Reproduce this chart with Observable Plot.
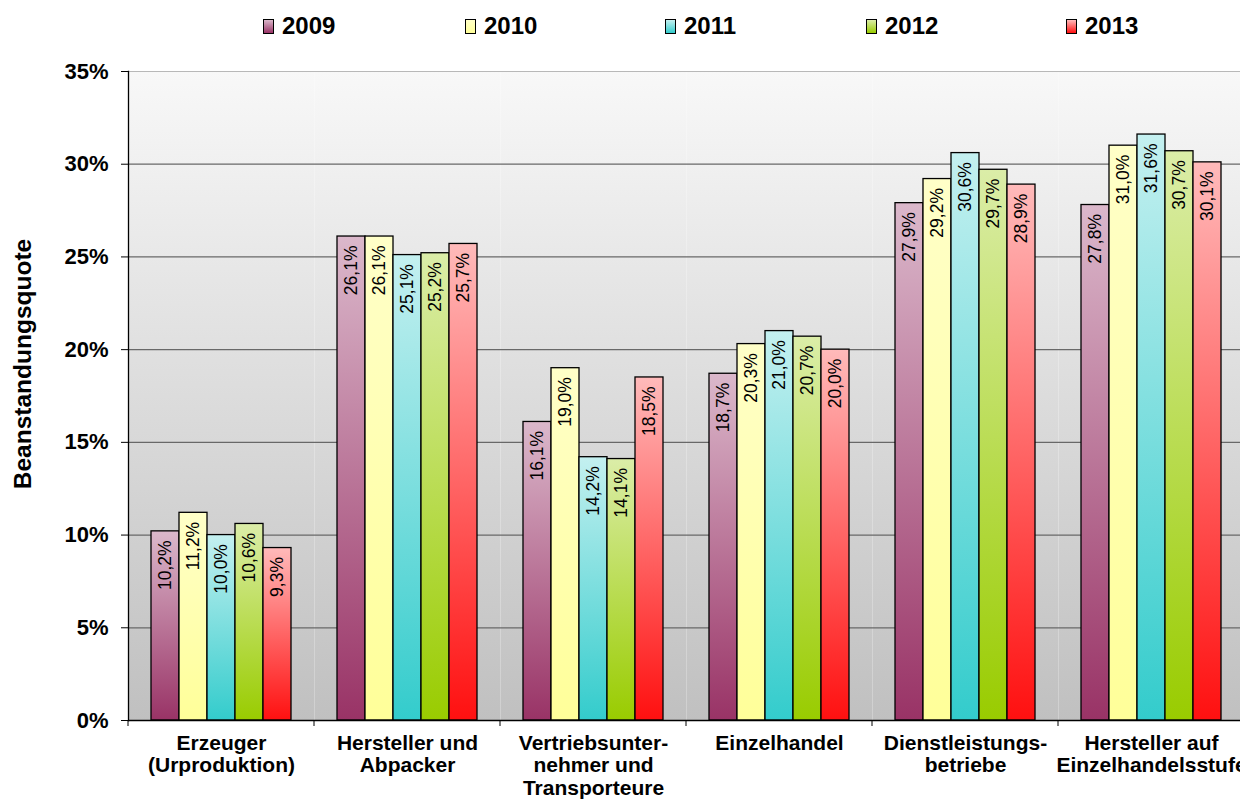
<!DOCTYPE html>
<html>
<head>
<meta charset="utf-8">
<script src="https://cdn.jsdelivr.net/npm/d3@7"></script>
<script src="https://cdn.jsdelivr.net/npm/@observablehq/plot@0.6"></script>
<style>
  html, body { margin: 0; padding: 0; background: #fff; overflow: hidden; }
  #wrap { position: relative; width: 1240px; height: 800px; overflow: hidden; font-family: "Liberation Sans", Arial, sans-serif; }
  #legend { position: relative; height: 55px; }
  #chart { height: 745px; line-height: 0; }
  #chart svg { max-width: none !important; display: block; }
  .item { position: absolute; top: 12px; display: flex; align-items: center; font-weight: bold; font-size: 24px; color: #000; }
  .sw { display: inline-block; width: 9px; height: 13px; border: 1.5px solid #000; margin-right: 8px; }
  #ylabel { position: absolute; left: 23px; top: 364px; transform: translate(-50%, -50%) rotate(-90deg); font-weight: bold; font-size: 24.5px; white-space: nowrap; }
</style>
</head>
<body>
<svg width="0" height="0" style="position:absolute">
  <defs>
    <linearGradient id="bg" x1="0" y1="0" x2="0" y2="1">
      <stop offset="0" stop-color="#f8f8f8"/>
      <stop offset="1" stop-color="#c0c0c0"/>
    </linearGradient>
    <linearGradient id="g2009" x1="0" y1="0" x2="0" y2="1">
      <stop offset="0" stop-color="#dbb8cb"/>
      <stop offset="1" stop-color="#993366"/>
    </linearGradient>
    <linearGradient id="g2010" x1="0" y1="0" x2="0" y2="1">
      <stop offset="0" stop-color="#ffffc8"/>
      <stop offset="1" stop-color="#ffff99"/>
    </linearGradient>
    <linearGradient id="g2011" x1="0" y1="0" x2="0" y2="1">
      <stop offset="0" stop-color="#c4f0f0"/>
      <stop offset="1" stop-color="#33cccc"/>
    </linearGradient>
    <linearGradient id="g2012" x1="0" y1="0" x2="0" y2="1">
      <stop offset="0" stop-color="#dbeda8"/>
      <stop offset="1" stop-color="#99cc00"/>
    </linearGradient>
    <linearGradient id="g2013" x1="0" y1="0" x2="0" y2="1">
      <stop offset="0" stop-color="#ffbaba"/>
      <stop offset="1" stop-color="#ff1010"/>
    </linearGradient>
  </defs>
</svg>
<div id="wrap">
  <div id="legend"></div>
  <div id="chart"></div>
  <div id="ylabel">Beanstandungsquote</div>
</div>
<script>
const categories = [
  "Erzeuger\n(Urproduktion)",
  "Hersteller und\nAbpacker",
  "Vertriebsunter-\nnehmer und\nTransporteure",
  "Einzelhandel",
  "Dienstleistungs-\nbetriebe",
  "Hersteller auf\nEinzelhandelsstufe"
];
const years = ["2009", "2010", "2011", "2012", "2013"];
const values2009 = [10.2, 26.1, 16.1, 18.7, 27.9, 27.8];
const values2010 = [11.2, 26.1, 19.0, 20.3, 29.2, 31.0];
const values2011 = [10.0, 25.1, 14.2, 21.0, 30.6, 31.6];
const values2012 = [10.6, 25.2, 14.1, 20.7, 29.7, 30.7];
const values2013 = [9.3, 25.7, 18.5, 20.0, 28.9, 30.1];
const yTicks = [0, 5, 10, 15, 20, 25, 30, 35];
const gridTicks = [5, 10, 15, 20, 25, 30];

const series = [values2009, values2010, values2011, values2012, values2013];
const data = [];
categories.forEach((c, ci) => {
  years.forEach((y, yi) => data.push({category: c, year: y, value: series[yi][ci]}));
});
const fills = years.map(y => `url(#g${y})`);
const swatchCss = [
  "linear-gradient(#dbb8cb, #993366)",
  "linear-gradient(#ffffc8, #ffff99)",
  "linear-gradient(#c4f0f0, #33cccc)",
  "linear-gradient(#dbeda8, #99cc00)",
  "linear-gradient(#ffbaba, #ff1010)"
];

// legend
const legendX = [263, 465, 665, 866, 1066];
const legend = document.getElementById("legend");
years.forEach((y, i) => {
  const it = document.createElement("div");
  it.className = "item";
  it.style.left = legendX[i] + "px";
  const sw = document.createElement("span");
  sw.className = "sw";
  sw.style.background = swatchCss[i];
  const tx = document.createElement("span");
  tx.textContent = y;
  it.appendChild(sw);
  it.appendChild(tx);
  legend.appendChild(it);
});

const boundaryTicks = (index, scales, values, dims) => {
  const g = d3.create("svg:g");
  const y0 = scales.y(0);
  g.append("line")
    .attr("x1", dims.marginLeft).attr("x2", dims.marginLeft)
    .attr("y1", y0).attr("y2", y0 + 6)
    .attr("stroke", "#000").attr("stroke-width", 1);
  return g.node();
};

const fmt = v => v.toFixed(1).replace(".", ",") + "%";

const chart = Plot.plot({
  width: 1246,
  height: 745,
  marginTop: 16,
  marginBottom: 80,
  marginLeft: 128,
  marginRight: 2,
  style: {fontFamily: "'Liberation Sans', Arial, sans-serif", background: "transparent", overflow: "visible", maxWidth: "none"},
  fx: {domain: categories, padding: 0},
  x: {domain: years, paddingInner: 0, paddingOuter: 0.74, axis: null},
  y: {domain: [0, 35], axis: null},
  color: {type: "ordinal", domain: years, range: fills},
  marks: [
    Plot.frame({fill: "url(#bg)", stroke: null}),
    Plot.ruleY(gridTicks, {stroke: "#686868", strokeWidth: 1.3}),
    Plot.ruleY([35], {stroke: "#b8b8b8", strokeWidth: 1}),
    Plot.barY(data, {fx: "category", x: "year", y: "value", fill: "year", stroke: "#000", strokeWidth: 1.3}),
    Plot.text(data, {fx: "category", x: "year", y: "value", text: d => fmt(d.value), rotate: -90, textAnchor: "end", dy: 9, fontSize: 17.5, fill: "#000"}),
    Plot.ruleY([0], {stroke: "#000", strokeWidth: 1.3}),
    Plot.frame({anchor: "left", facetAnchor: "left", stroke: "#000", strokeWidth: 1.3}),
    Plot.axisY({ticks: yTicks, tickFormat: d => d + "%", tickSize: 7, tickPadding: 13, fontSize: 22, fontWeight: "bold", label: null, stroke: "#000"}),
    Plot.axisFx({anchor: "bottom", tickSize: 0, tickPadding: 13, fontSize: 21, fontWeight: "bold", lineHeight: 1.08, label: null}),
    boundaryTicks
  ]
});
document.getElementById("chart").appendChild(chart);
</script>
</body>
</html>
